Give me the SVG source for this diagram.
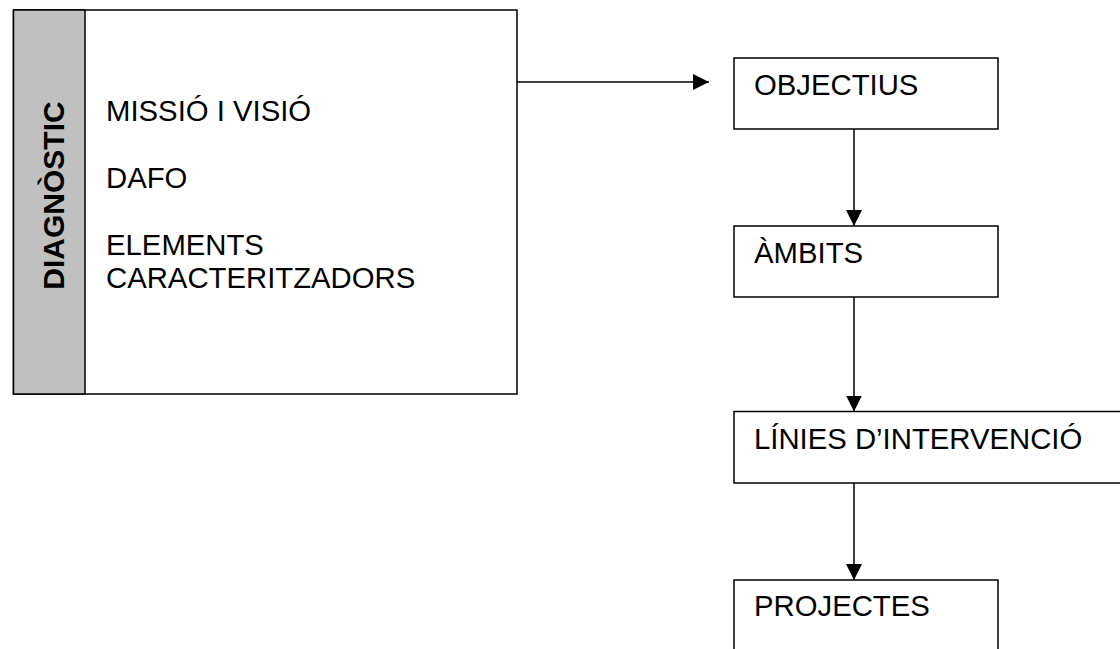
<svg xmlns="http://www.w3.org/2000/svg" width="1120" height="649" viewBox="0 0 1120 649">
<style>
.box{fill:#ffffff;stroke:#000000;stroke-width:1.5}
.lbl{font-family:"Liberation Sans",Arial,sans-serif;font-size:29.3px;fill:#000000}
.conn{stroke:#000000;stroke-width:1.5;fill:none}
</style>
<defs>
<marker id="arr" markerUnits="userSpaceOnUse" markerWidth="16" markerHeight="16" refX="16" refY="8" orient="auto">
<path d="M0,0 L16,8 L0,16 Z" fill="#000000"/>
</marker>
</defs>
<rect width="1120" height="649" fill="#ffffff"/>
<g id="diagnostic">
<rect class="box" x="13.5" y="10" width="503.5" height="384"/>
<rect x="13.5" y="10" width="71.5" height="384" fill="#c0c0c0" stroke="#000000" stroke-width="1.5"/>
<text class="lbl" transform="translate(63.5,195.5) rotate(-90)" text-anchor="middle" font-weight="bold" style="font-size:30px">DIAGNÒSTIC</text>
<text class="lbl" x="106" y="121">MISSIÓ I VISIÓ</text>
<text class="lbl" x="106" y="188">DAFO</text>
<text class="lbl" x="106" y="255">ELEMENTS</text>
<text class="lbl" x="106" y="288">CARACTERITZADORS</text>
</g>
<g id="objectius">
<rect class="box" x="734" y="58" width="264" height="71"/>
<text class="lbl" x="754" y="95">OBJECTIUS</text>
</g>
<g id="ambits">
<rect class="box" x="734" y="226" width="264" height="71"/>
<text class="lbl" x="754" y="263">ÀMBITS</text>
</g>
<g id="linies">
<rect class="box" x="734" y="411.5" width="400" height="71.5"/>
<text class="lbl" x="754" y="449">LÍNIES D’INTERVENCIÓ</text>
</g>
<g id="projectes">
<rect class="box" x="734" y="580" width="264" height="80"/>
<text class="lbl" x="754" y="616">PROJECTES</text>
</g>
<g id="connectors">
<line class="conn" x1="517" y1="82" x2="709" y2="82" marker-end="url(#arr)"/>
<line class="conn" x1="854" y1="129" x2="854" y2="226" marker-end="url(#arr)"/>
<line class="conn" x1="854" y1="297" x2="854" y2="411.5" marker-end="url(#arr)"/>
<line class="conn" x1="854" y1="483" x2="854" y2="580" marker-end="url(#arr)"/>
</g>
</svg>
